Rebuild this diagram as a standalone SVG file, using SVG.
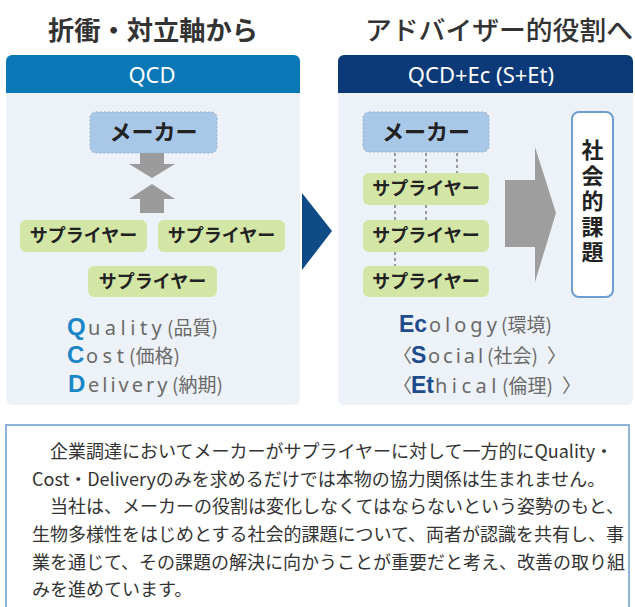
<svg xmlns="http://www.w3.org/2000/svg" width="635" height="607" viewBox="0 0 635 607">
<style>
.jp{font-family:"Noto Sans CJK JP","Noto Sans",sans-serif}
.title{font-size:26px;font-weight:700;fill:#333}
.hdr{font-family:"Noto Sans","Open Sans",sans-serif;font-size:22px;fill:#fff;text-anchor:middle}
.maker rect{fill:#a9c8e7;stroke:#8fb0d4;stroke-width:1;stroke-dasharray:2 2}
.maker text{font-size:22px;font-weight:700;fill:#222;text-anchor:middle}
.sup rect{fill:#d3e6a6}
.sup text{font-size:18px;font-weight:700;fill:#222;text-anchor:middle}
.cap{font-family:"Liberation Sans",Arial,sans-serif;font-size:24px;font-weight:700}
.rest{font-family:"Noto Sans","Open Sans",sans-serif;font-size:20px;fill:#6a6a6a}
.par{font-family:"Noto Sans CJK JP",sans-serif;font-size:19px;fill:#6a6a6a}
.body{font-size:18px;fill:#333}
.dot{stroke:#9a9a9a;stroke-width:2;stroke-dasharray:3 3;fill:none}
</style>

<!-- titles -->
<g id="title-left"><text class="jp title" x="48" y="40" textLength="210" lengthAdjust="spacingAndGlyphs">折衝・対立軸から</text></g>
<g id="title-right"><text class="jp title" x="365" y="40" textLength="268" lengthAdjust="spacingAndGlyphs" style="font-weight:500">アドバイザー的役割へ</text></g>

<!-- left panel -->
<g id="panel-qcd">
  <path d="M6,93 H300 V399 a6,6 0 0 1 -6,6 H12 a6,6 0 0 1 -6,-6 Z" fill="#edf2f8"/>
  <path d="M6,93 V61 a6,6 0 0 1 6,-6 H294 a6,6 0 0 1 6,6 V93 Z" fill="#0a77b6"/>
  <text class="hdr" x="152" y="83">QCD</text>
</g>

<!-- right panel -->
<g id="panel-qcdec">
  <path d="M338,93 H633 V399 a6,6 0 0 1 -6,6 H344 a6,6 0 0 1 -6,-6 Z" fill="#edf2f8"/>
  <path d="M338,93 V61 a6,6 0 0 1 6,-6 H627 a6,6 0 0 1 6,6 V93 Z" fill="#0c3a78"/>
  <text class="hdr" x="481" y="83">QCD+Ec (S+Et)</text>
</g>

<!-- connectors -->
<g id="connectors">
  <path d="M140,153 H164 V164 H175 L152,178 L129,164 H140 Z" fill="#9b9b9b"/>
  <path d="M152,184 L175,199 H164 V213 H140 V199 H129 Z" fill="#9b9b9b"/>
  <path d="M302,193 L332,231 L302,270 Z" fill="#0f4b86"/>
  <line class="dot" x1="395" y1="153" x2="395" y2="173"/>
  <line class="dot" x1="426" y1="153" x2="426" y2="173"/>
  <line class="dot" x1="457" y1="153" x2="457" y2="173"/>
  <line class="dot" x1="395" y1="205" x2="395" y2="220"/>
  <line class="dot" x1="426" y1="205" x2="426" y2="220"/>
  <line class="dot" x1="395" y1="252" x2="395" y2="266"/>
  <path d="M505,180 H535 V147 L556,213 L535,282 V247 H505 Z" fill="#9e9e9e"/>
</g>

<!-- left nodes -->
<g id="maker-left" class="maker jp"><rect x="90" y="112" width="127" height="41" rx="6"/><text x="153.5" y="140">メーカー</text></g>
<g id="supplier-l1" class="sup jp"><rect x="20" y="220" width="127" height="32" rx="6"/><text x="83.5" y="242">サプライヤー</text></g>
<g id="supplier-l2" class="sup jp"><rect x="158" y="220" width="127" height="32" rx="6"/><text x="221.5" y="242">サプライヤー</text></g>
<g id="supplier-l3" class="sup jp"><rect x="88" y="266" width="129" height="31" rx="6"/><text x="152.5" y="288">サプライヤー</text></g>

<g id="qcd-list">
  <text>
    <tspan class="cap" x="67" y="335" fill="#1a85c7">Q</tspan><tspan class="rest" x="88" y="335" style="letter-spacing:4.5px">uality</tspan><tspan class="par" x="167" y="335">(品質)</tspan>
    <tspan class="cap" x="67" y="363" fill="#1a85c7">C</tspan><tspan class="rest" x="86" y="363" style="letter-spacing:4.5px">ost</tspan><tspan class="par" x="129" y="363">(価格)</tspan>
    <tspan class="cap" x="68" y="392" fill="#1a85c7">D</tspan><tspan class="rest" x="88" y="392" style="letter-spacing:3px">elivery</tspan><tspan class="par" x="172" y="392">(納期)</tspan>
  </text>
</g>

<!-- right nodes -->
<g id="maker-right" class="maker jp"><rect x="363" y="112" width="126" height="40" rx="6"/><text x="426" y="140">メーカー</text></g>
<g id="supplier-r1" class="sup jp"><rect x="363" y="173" width="126" height="32" rx="6"/><text x="426" y="195">サプライヤー</text></g>
<g id="supplier-r2" class="sup jp"><rect x="363" y="220" width="126" height="32" rx="6"/><text x="426" y="242">サプライヤー</text></g>
<g id="supplier-r3" class="sup jp"><rect x="363" y="266" width="126" height="31" rx="6"/><text x="426" y="288">サプライヤー</text></g>

<g id="social-issues" class="jp">
  <rect x="572" y="112" width="41" height="185" rx="7" fill="#fff" stroke="#6e9dd1" stroke-width="2"/>
  <text x="592.5" y="139" font-size="22" font-weight="700" fill="#222" writing-mode="vertical-rl" style="text-orientation:upright;letter-spacing:3.5px">社会的課題</text>
</g>

<g id="ecset-list">
  <text>
    <tspan class="cap" x="399" y="332" fill="#1d4b8b" style="font-size:23px">Ec</tspan><tspan class="rest" x="429" y="332" style="letter-spacing:4px">ology</tspan><tspan class="par" x="501" y="332">(環境)</tspan>
    <tspan class="par" x="393" y="363">〈</tspan><tspan class="cap" x="411" y="363" fill="#1d4b8b" style="font-size:23px">S</tspan><tspan class="rest" x="428" y="363" style="letter-spacing:3px">ocial</tspan><tspan class="par" x="487" y="363">(社会)</tspan><tspan class="par" x="547" y="363">〉</tspan>
    <tspan class="par" x="393" y="393">〈</tspan><tspan class="cap" x="411" y="393" fill="#1d4b8b" style="font-size:23px">Et</tspan><tspan class="rest" x="435" y="393" style="letter-spacing:4.5px">hical</tspan><tspan class="par" x="502" y="393">(倫理)</tspan><tspan class="par" x="562" y="393">〉</tspan>
  </text>
</g>

<!-- description box -->
<g id="description" class="jp">
  <rect x="6" y="425" width="623" height="210" fill="#fff" stroke="#8fb4d9" stroke-width="2"/>
  <text class="body">
    <tspan x="50" y="458">企業調達においてメーカーがサプライヤーに対して一方的にQuality・</tspan>
    <tspan x="32" y="486">Cost・Deliveryのみを求めるだけでは本物の協力関係は生まれません。</tspan>
    <tspan x="50" y="513">当社は、メーカーの役割は変化しなくてはならないという姿勢のもと、</tspan>
    <tspan x="32" y="541">生物多様性をはじめとする社会的課題について、両者が認識を共有し、事</tspan>
    <tspan x="32" y="569">業を通じて、その課題の解決に向かうことが重要だと考え、改善の取り組</tspan>
    <tspan x="32" y="596">みを進めています。</tspan>
  </text>
</g>
</svg>
